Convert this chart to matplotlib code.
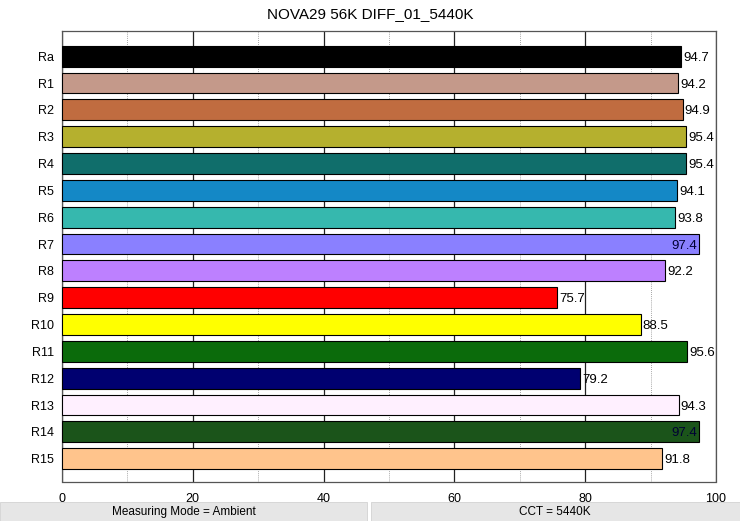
import numpy as np
from matplotlib import pyplot as plt
from matplotlib.patches import Rectangle

plt.rcParams['font.family'] = ['Liberation Sans', 'DejaVu Sans']

title = "NOVA29 56K DIFF_01_5440K"
labels = ["Ra", "R1", "R2", "R3", "R4", "R5", "R6", "R7", "R8", "R9",
          "R10", "R11", "R12", "R13", "R14", "R15"]
values = [94.7, 94.2, 94.9, 95.4, 95.4, 94.1, 93.8, 97.4, 92.2, 75.7,
          88.5, 95.6, 79.2, 94.3, 97.4, 91.8]
colors = ["#000000", "#c4998a", "#c06c40", "#b5b02e", "#106e6b", "#1488c6",
          "#36b8ae", "#8a80ff", "#bd80ff", "#ff0000", "#ffff00", "#0b6b0b",
          "#000070", "#fff0ff", "#1b541a", "#ffc48c"]
footer_left = "Measuring Mode = Ambient"
footer_right = "CCT = 5440K"

fig = plt.figure(figsize=(7.4, 5.21), dpi=100)
ax = fig.add_axes([62/740, 1 - 481.5/521, (716 - 62)/740, (481.5 - 30.7)/521])

y = np.arange(len(labels))
ax.barh(y, values, height=0.78, color=colors, edgecolor="black", linewidth=0.8, zorder=3)

for yi, v in zip(y, values):
    if v > 96:
        ax.text(v - 0.3, yi, f"{v:.1f}", ha="right", va="center_baseline", fontsize=9.5,
                zorder=4, color="#000033")
    else:
        ax.text(v + 0.3, yi, f"{v:.1f}", ha="left", va="center_baseline", fontsize=9.5,
                zorder=4)

ax.set_xlim(0, 100)
ax.set_ylim(15.85, -0.95)
ax.set_yticks(y)
ax.set_yticklabels(labels, fontsize=9, va="center_baseline")
ax.set_xticks(np.arange(0, 101, 20))
ax.set_xticks(np.arange(10, 100, 20), minor=True)
ax.tick_params(axis="x", labelsize=9, length=0, pad=8)
ax.tick_params(axis="x", which="minor", length=0)
ax.tick_params(axis="y", length=0, pad=6)
ax.grid(axis="x", which="major", color="#222222", linewidth=0.9, zorder=0)
ax.grid(axis="x", which="minor", color="#888888", linewidth=0.6, linestyle=(0, (1, 1.5)), zorder=0)
for s in ax.spines.values():
    s.set_color("#555555")
    s.set_linewidth(0.9)

fig.text(0.5, 1 - 14/521, title, ha="center", va="center", fontsize=11)

# footer boxes
fig.patches.append(Rectangle((0, 0), 367/740, 19/521, transform=fig.transFigure,
                             facecolor="#e6e6e6", edgecolor="#cccccc", linewidth=0.5))
fig.patches.append(Rectangle((371/740, 0), 369/740, 19/521, transform=fig.transFigure,
                             facecolor="#e6e6e6", edgecolor="#cccccc", linewidth=0.5))
fig.text(184/740, 9/521, footer_left, ha="center", va="center", fontsize=8.5)
fig.text(555/740, 9/521, footer_right, ha="center", va="center", fontsize=8.5)

fig.savefig("out.png", dpi=100)
